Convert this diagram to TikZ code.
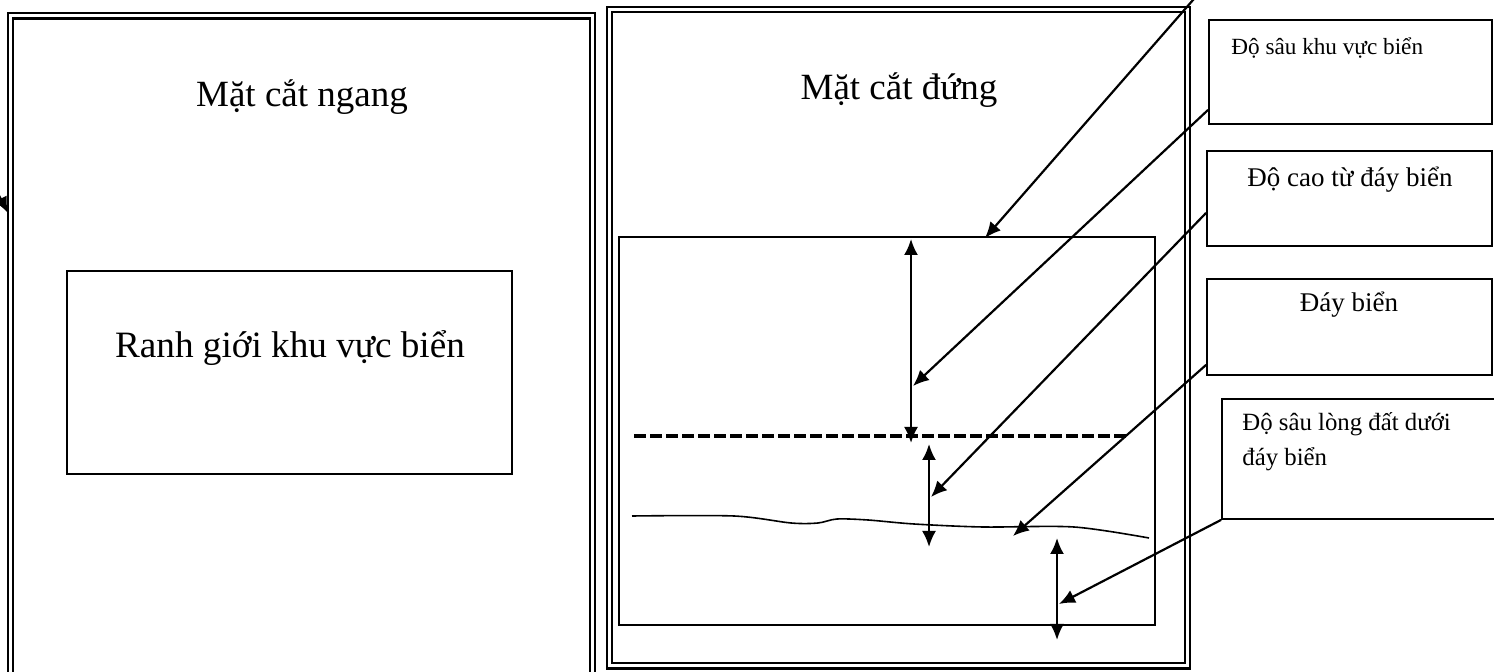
\documentclass[tikz,border=0pt]{standalone}
\usepackage{fontspec}
\setmainfont{Liberation Serif}
\usetikzlibrary{arrows.meta}

\begin{document}
\begin{tikzpicture}[>={Latex[length=8pt,width=7pt]},x=0.5pt,y=-0.5pt,
    frame/.style={draw,line width=1.1pt,double,double distance=1.5pt},
    box/.style={draw,line width=0.9pt,rectangle,inner sep=0pt},
    lead/.style={->,line width=1.1pt},
    dim/.style={<->,line width=1.1pt}]
    \useasboundingbox (0,0) rectangle (1494,672);
    % mat cat ngang
    \draw[frame] (10.5,16) rectangle (592.5,690);
    \node[font=\fontsize{18.5}{20}\selectfont] (tngang) at (302,97) {Mặt cắt ngang};
    \node[box,minimum width=222.5pt,minimum height=101.5pt] (ranh) at (289.5,372.5) {};
    \node[font=\fontsize{18.6}{20}\selectfont] (tranh) at (290,348) {Ranh giới khu vực biển};
    \coordinate (s5) at (-8,182);
    \coordinate (p5) at (8,213);
    \draw[lead] (s5) -- (p5);
    % mat cat dung
    \draw[frame] (609.5,9.5) rectangle (1187.5,666);
    \node[font=\fontsize{18.5}{20}\selectfont] (tdung) at (899,90) {Mặt cắt đứng};
    \node[box,minimum width=268pt,minimum height=194pt] (mc) at (887,431) {};
    \draw[line width=1.7pt,dash pattern=on 6pt off 2pt] (634,436) -- (1128,436);
    \draw[line width=0.8pt] plot[smooth,tension=0.5] coordinates {(632,516) (734,516) (791,523) (818,523) (837,519) (868,520) (914,524) (983,527) (1074,527) (1149,538)};
    \coordinate (d1a) at (911,239);
    \coordinate (d1b) at (911,443);
    \coordinate (d2a) at (929,444);
    \coordinate (d2b) at (929,547);
    \coordinate (d3a) at (1057,538);
    \coordinate (d3b) at (1057,640);
    \draw[dim] (d1a) -- (d1b);
    \draw[dim] (d2a) -- (d2b);
    \draw[dim] (d3a) -- (d3b);
    % chu thich
    \node[box,minimum width=141.5pt,minimum height=52pt] (b1) at (1350.5,72) {};
    \node[box,minimum width=142.5pt,minimum height=47.5pt] (b2) at (1349.5,198.5) {};
    \node[box,minimum width=142.5pt,minimum height=48pt] (b3) at (1349.5,327) {};
    \node[box,minimum width=139pt,minimum height=60pt] (b4) at (1361,459) {};
    \node[font=\fontsize{11.6}{13}\selectfont,anchor=west,inner sep=0pt] (t1) at (1231,48) {Độ sâu khu vực biển};
    \node[font=\fontsize{13.5}{15}\selectfont] (t2) at (1350,180) {Độ cao từ đáy biển};
    \node[font=\fontsize{13.5}{15}\selectfont] (t3) at (1349,305) {Đáy biển};
    \node[font=\fontsize{12.4}{17.5}\selectfont,anchor=west,align=left,inner sep=0pt] (t4) at (1242,442) {Độ sâu lòng đất dưới\\đáy biển};
    \coordinate (s0) at (1200,-8);
    \coordinate (p0) at (985,238);
    \coordinate (p1) at (913,386);
    \coordinate (p2) at (931,497);
    \coordinate (p3) at (1013,536);
    \coordinate (p4) at (1059,604);
    \draw[lead] (s0) -- (p0);
    \draw[lead] ([yshift=7.5pt]b1.south west) -- (p1);
    \draw[lead] ([yshift=17pt]b2.south west) -- (p2);
    \draw[lead] ([yshift=5.5pt]b3.south west) -- (p3);
    \draw[lead] (b4.south west) -- (p4);
\end{tikzpicture}
\end{document}
